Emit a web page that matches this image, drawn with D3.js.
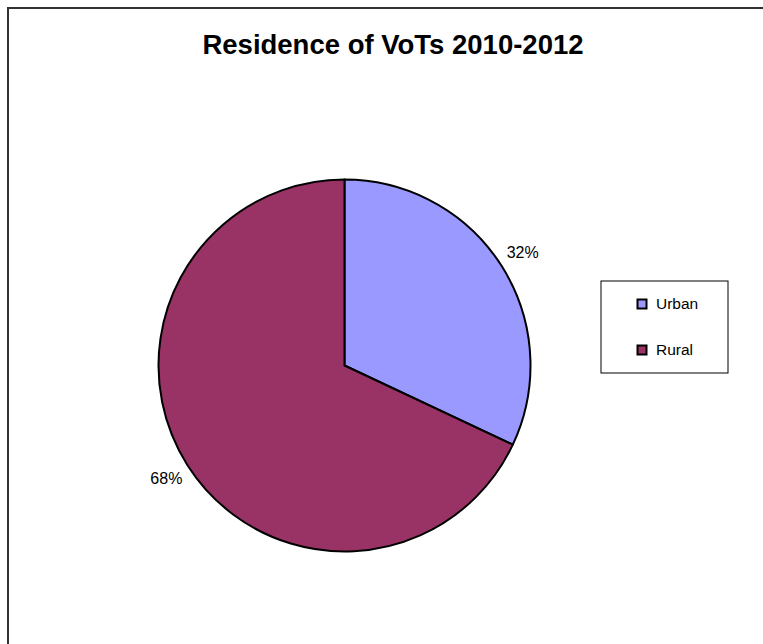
<!DOCTYPE html>
<html>
<head>
<meta charset="utf-8">
<script src="https://cdn.jsdelivr.net/npm/d3@7/dist/d3.min.js"></script>
<style>
  html, body { margin: 0; padding: 0; background: #fff; }
  svg { display: block; font-family: "Liberation Sans", Arial, sans-serif; }
</style>
</head>
<body>
<svg id="chart" width="763" height="644"></svg>
<script>
// Residence of victims of trafficking, 2010-2012
const categories = ["Urban", "Rural"];
const shares = [32, 68];
const colors = ["#9999ff", "#993366"];
const title = "Residence of VoTs 2010-2012";

const svg = d3.select("#chart");

// Chart area frame (open on the right and bottom edges)
svg.append("path")
  .attr("d", "M8,644 L8,8 L763,8")
  .attr("fill", "none")
  .attr("stroke", "#333")
  .attr("stroke-width", 2);

svg.append("text")
  .attr("x", 393)
  .attr("y", 54)
  .attr("text-anchor", "middle")
  .attr("font-size", 27.5)
  .attr("font-weight", "bold")
  .attr("fill", "#000")
  .text(title);

const cx = 344.5, cy = 365.5, r = 186;
const data = categories.map((c, i) => ({ name: c, value: shares[i], color: colors[i] }));

const pie = d3.pie().value(d => d.value).sort(null);
const arcs = pie(data);
const arc = d3.arc().innerRadius(0).outerRadius(r);

const g = svg.append("g").attr("transform", `translate(${cx},${cy})`);

g.selectAll("path.slice")
  .data(arcs)
  .join("path")
  .attr("class", "slice")
  .attr("d", arc)
  .attr("fill", d => d.data.color)
  .attr("stroke", "#000")
  .attr("stroke-width", 2)
  .attr("stroke-linejoin", "round");

// Percentage labels sit just outside the rim
const labelArc = d3.arc().innerRadius(r + 25).outerRadius(r + 25);
g.selectAll("text.pct")
  .data(arcs)
  .join("text")
  .attr("class", "pct")
  .attr("transform", d => {
    const [x, y] = labelArc.centroid(d);
    return `translate(${x},${y})`;
  })
  .attr("text-anchor", "middle")
  .attr("dy", "0.35em")
  .attr("font-size", 16)
  .attr("fill", "#000")
  .text(d => d.data.value + "%");

// Legend
const legend = svg.append("g").attr("transform", "translate(601,281)");
legend.append("rect")
  .attr("width", 127)
  .attr("height", 92)
  .attr("fill", "#fff")
  .attr("stroke", "#000")
  .attr("stroke-width", 1);

const item = legend.selectAll("g.item")
  .data(data)
  .join("g")
  .attr("class", "item")
  .attr("transform", (d, i) => `translate(36,${23 + i * 46})`);

item.append("rect")
  .attr("x", 0.5)
  .attr("y", -4.5)
  .attr("width", 9)
  .attr("height", 9)
  .attr("fill", d => d.color)
  .attr("stroke", "#000")
  .attr("stroke-width", 2);

item.append("text")
  .attr("x", 19)
  .attr("y", 0)
  .attr("dy", "0.33em")
  .attr("font-size", 15.5)
  .attr("fill", "#000")
  .text(d => d.name);
</script>
</body>
</html>
